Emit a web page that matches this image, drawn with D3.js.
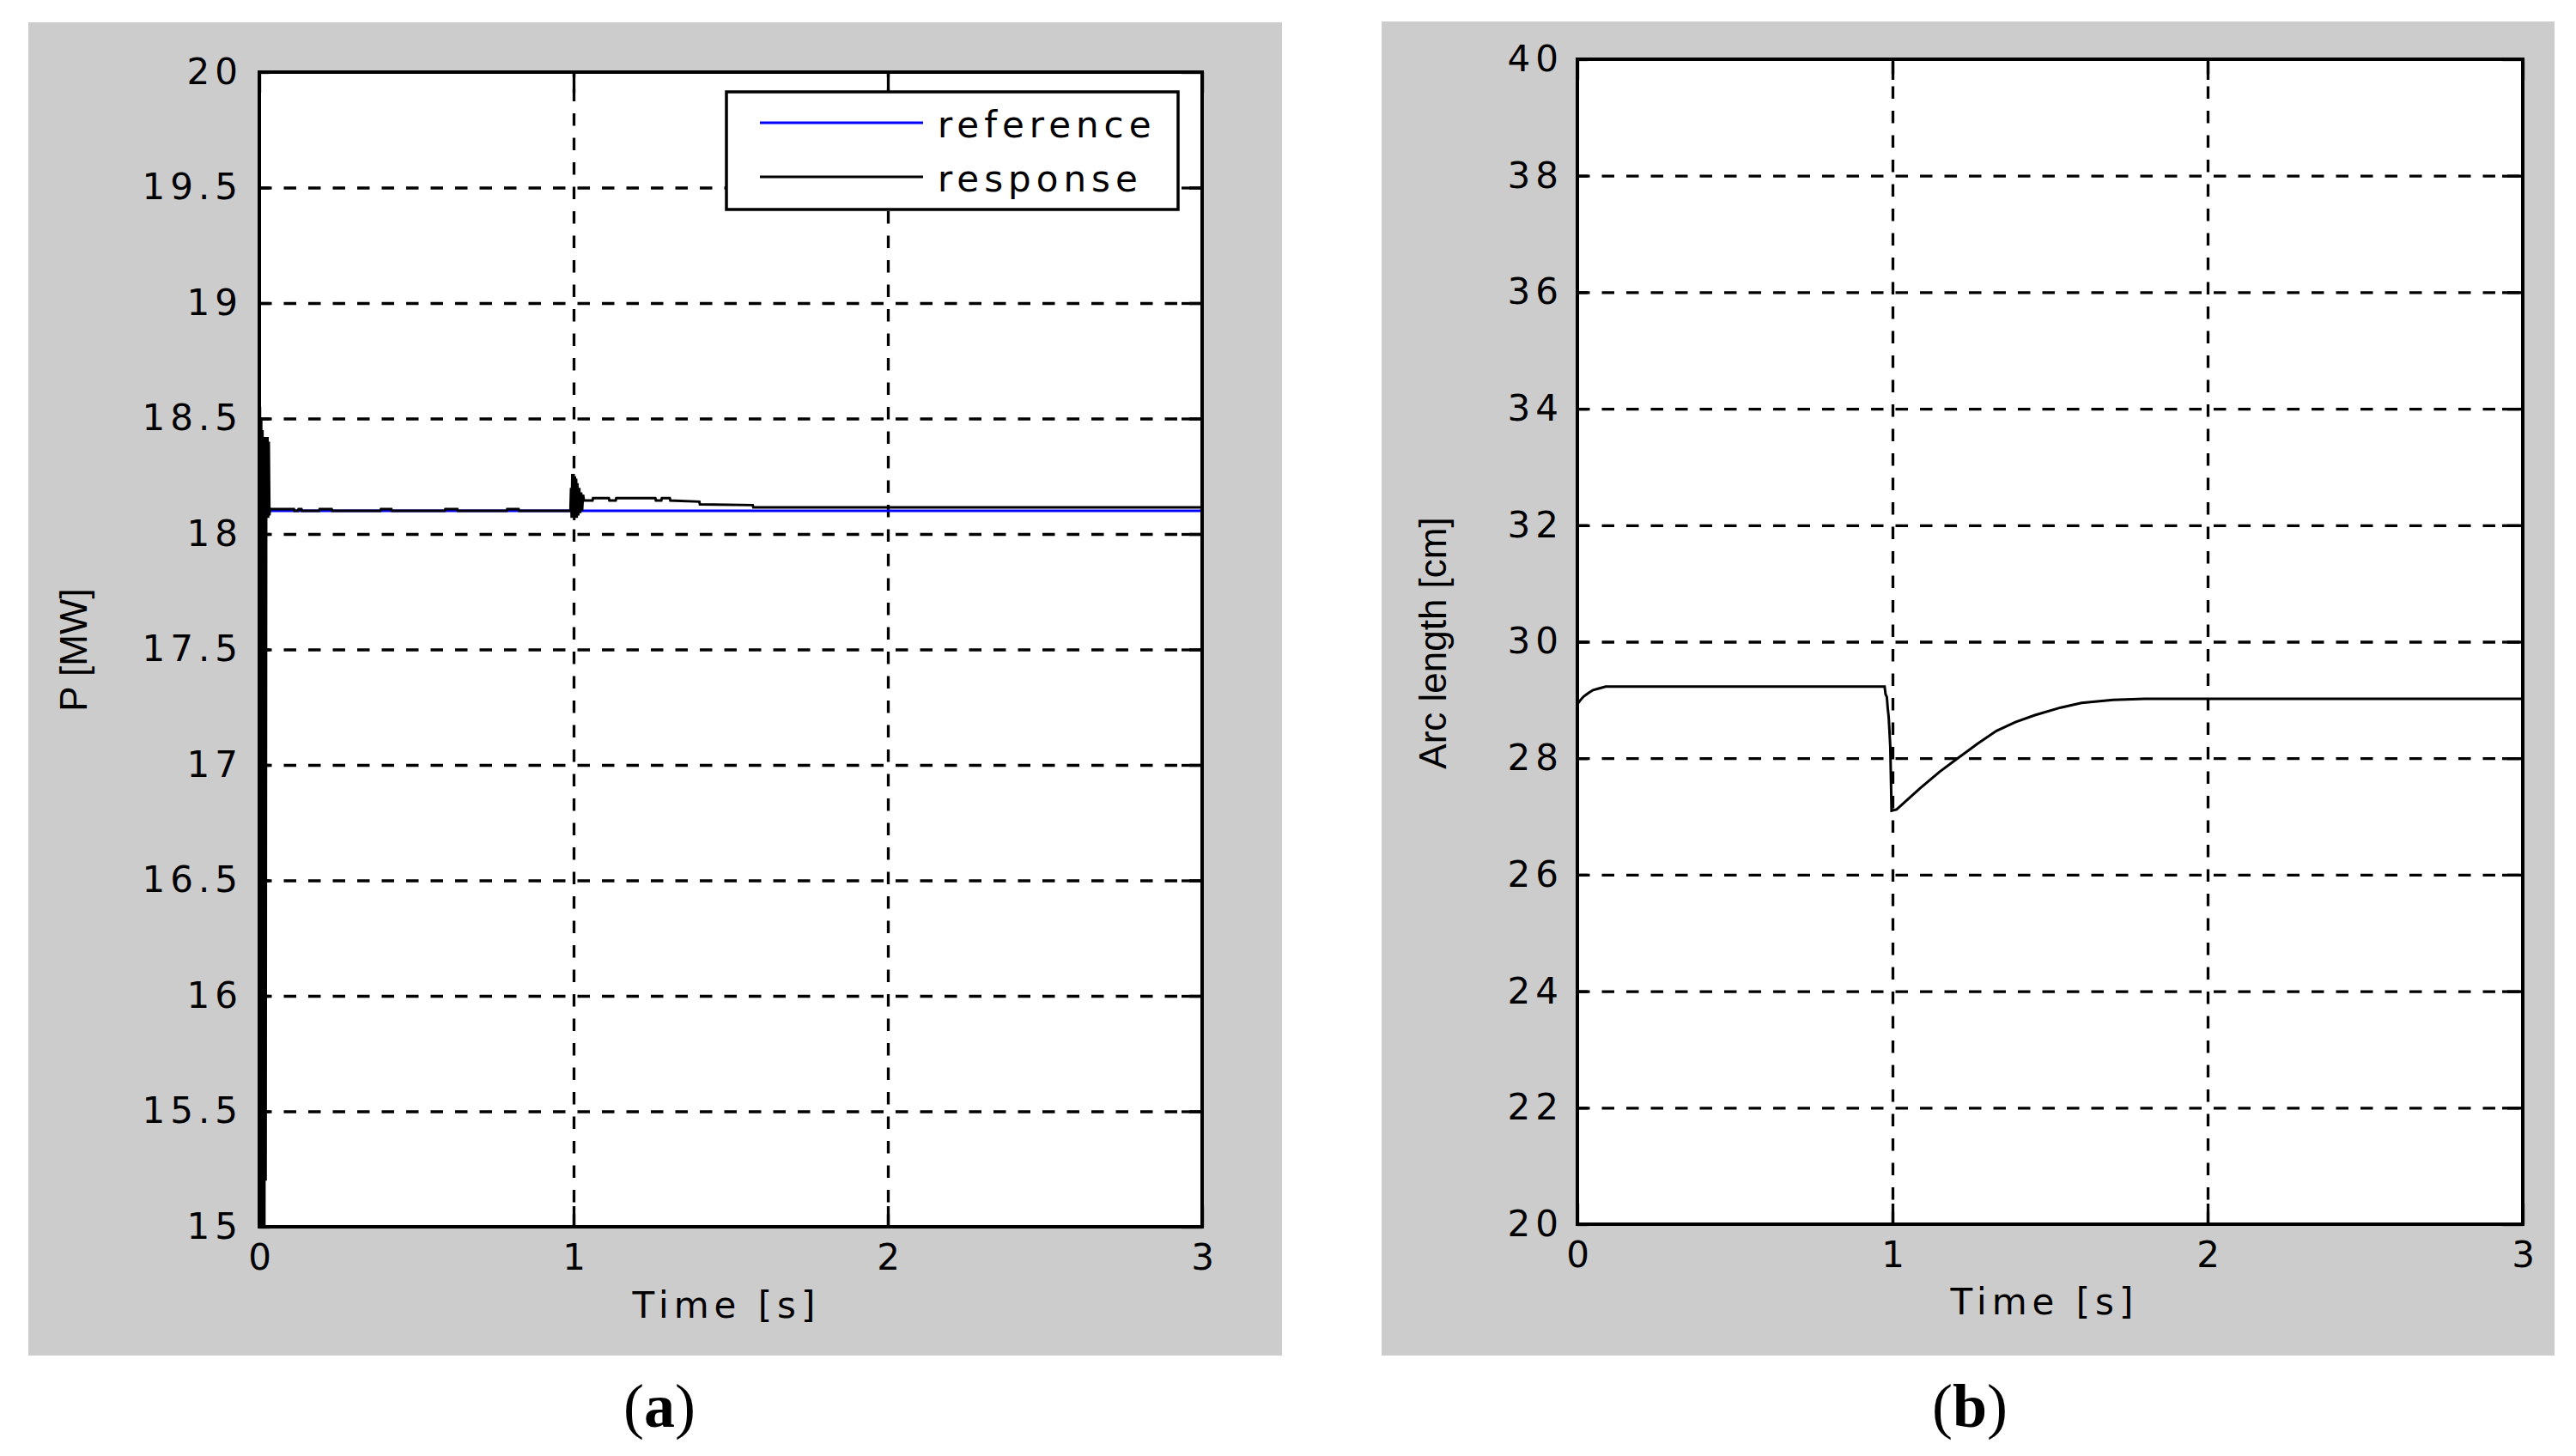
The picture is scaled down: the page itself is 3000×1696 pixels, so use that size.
<!DOCTYPE html>
<html>
<head>
<meta charset="utf-8">
<script src="https://cdn.jsdelivr.net/npm/d3@7"></script>
<style>
  body { margin: 0; background: #fff; }
  svg { display: block; }
</style>
</head>
<body>
<svg id="fig" width="3000" height="1696"></svg>
<script>
// ---- data ----
const timeTicks = [0, 1, 2, 3];
const powerTicks = [15, 15.5, 16, 16.5, 17, 17.5, 18, 18.5, 19, 19.5, 20];
const arcTicks = [20, 22, 24, 26, 28, 30, 32, 34, 36, 38, 40];
const legendLabels = ['reference', 'response'];

// P reference [s, MW]
const powerReference = [[0, 18.1], [3, 18.1]];

// P response [s, MW]
const powerResponse = [
  [0, 14.5], [0.002, 18.55], [0.004, 14.5], [0.006, 18.5], [0.008, 14.6], [0.010, 18.45],
  [0.012, 14.8], [0.014, 18.42], [0.016, 15.0], [0.018, 18.42], [0.020, 15.2], [0.022, 18.42],
  [0.024, 18.07], [0.026, 18.42], [0.028, 18.07], [0.030, 18.40], [0.032, 18.08], [0.034, 18.11],
  [0.036, 18.108], [0.11, 18.108], [0.112, 18.1], [0.123, 18.1], [0.125, 18.108], [0.134, 18.108],
  [0.136, 18.1], [0.19, 18.1], [0.192, 18.108], [0.23, 18.108], [0.232, 18.1], [0.385, 18.1],
  [0.387, 18.108], [0.42, 18.108], [0.422, 18.1], [0.59, 18.1], [0.592, 18.108], [0.63, 18.108],
  [0.632, 18.1], [0.787, 18.1], [0.789, 18.108], [0.825, 18.108], [0.827, 18.1], [0.99, 18.1],
  [0.992, 18.2], [0.994, 18.07], [0.996, 18.26], [0.998, 18.07], [1.0, 18.26], [1.002, 18.06],
  [1.004, 18.25], [1.006, 18.07], [1.008, 18.24], [1.010, 18.07], [1.012, 18.22], [1.015, 18.08],
  [1.018, 18.2], [1.021, 18.09], [1.024, 18.18], [1.027, 18.1], [1.03, 18.17], [1.033, 18.145],
  [1.06, 18.145], [1.062, 18.155], [1.112, 18.155], [1.114, 18.145], [1.134, 18.145], [1.136, 18.155],
  [1.26, 18.155], [1.262, 18.145], [1.279, 18.145], [1.281, 18.155], [1.306, 18.155], [1.308, 18.145],
  [1.40, 18.14], [1.402, 18.128], [1.57, 18.125], [1.572, 18.115], [3.0, 18.115]
];

// arc length [s, cm]
const arcLength = [
  [0, 28.93], [0.01, 29.0], [0.02, 29.06], [0.035, 29.12], [0.05, 29.17], [0.07, 29.2], [0.09, 29.23],
  [0.975, 29.23], [0.978, 29.1], [0.982, 29.05], [0.985, 28.85], [0.988, 28.7], [0.99, 28.5],
  [0.993, 28.2], [0.997, 27.1], [1.013, 27.12], [1.05, 27.3], [1.087, 27.48], [1.15, 27.77],
  [1.207, 28.0], [1.27, 28.25], [1.33, 28.47], [1.39, 28.62], [1.452, 28.74], [1.534, 28.87],
  [1.6, 28.95], [1.7, 29.0], [1.8, 29.02], [2.0, 29.02], [3.0, 29.02]
];

const svg = d3.select('#fig');
svg.append('rect').attr('width', 3000).attr('height', 1696).attr('fill', '#fff');

const tickFont = (sel) => sel
  .style('font-family', "'DejaVu Sans', sans-serif")
  .style('font-size', '42px')
  .style('letter-spacing', '6px')
  .attr('fill', '#000');

function drawPanel(o) {
  const g = svg.append('g');
  const w = o.right - o.left;
  const h = o.bottom - o.top;

  // figure background
  g.append('rect')
    .attr('x', o.bg[0]).attr('y', o.bg[1])
    .attr('width', o.bg[2] - o.bg[0]).attr('height', o.bg[3] - o.bg[1])
    .attr('fill', '#cccccc');

  const x = d3.scaleLinear()
    .domain([timeTicks[0], timeTicks[timeTicks.length - 1]])
    .range([o.left, o.right]);
  const y = d3.scaleLinear()
    .domain([o.yTicks[0], o.yTicks[o.yTicks.length - 1]])
    .range([o.bottom, o.top]);

  g.append('rect')
    .attr('x', o.left).attr('y', o.top)
    .attr('width', w).attr('height', h)
    .attr('fill', '#fff');

  // dashed grid
  const inner = (arr) => arr.slice(1, -1);
  const gridStyle = (s) => {
    s.select('.domain').remove();
    s.selectAll('line')
      .attr('stroke', '#000')
      .attr('stroke-width', 3.3)
      .attr('stroke-dasharray', '14.5 14');
  };
  g.append('g')
    .attr('transform', `translate(${o.left},0)`)
    .call(d3.axisLeft(y).tickValues(inner(o.yTicks)).tickSize(-w).tickFormat(''))
    .call(gridStyle);
  g.append('g')
    .attr('transform', `translate(0,${o.bottom})`)
    .call(d3.axisBottom(x).tickValues(inner(timeTicks)).tickSize(-h).tickFormat(''))
    .call(gridStyle);

  // inward ticks on all four sides
  const tickStyle = (s) => {
    s.select('.domain').remove();
    s.selectAll('line').attr('stroke', '#000').attr('stroke-width', 3.3);
  };
  g.append('g').attr('transform', `translate(${o.left},0)`)
    .call(d3.axisLeft(y).tickValues(o.yTicks).tickSize(-12).tickFormat('')).call(tickStyle);
  g.append('g').attr('transform', `translate(${o.right},0)`)
    .call(d3.axisRight(y).tickValues(o.yTicks).tickSize(-24).tickFormat('')).call(tickStyle);
  g.append('g').attr('transform', `translate(0,${o.bottom})`)
    .call(d3.axisBottom(x).tickValues(timeTicks).tickSize(-24).tickFormat('')).call(tickStyle);
  g.append('g').attr('transform', `translate(0,${o.top})`)
    .call(d3.axisTop(x).tickValues(timeTicks).tickSize(-24).tickFormat('')).call(tickStyle);

  // data lines
  const clipId = 'clip-' + o.name;
  g.append('clipPath').attr('id', clipId)
    .append('rect')
    .attr('x', o.left).attr('y', o.top)
    .attr('width', w).attr('height', h);

  const line = d3.line().x(d => x(d[0])).y(d => y(d[1]));
  o.series.forEach(s => {
    g.append('path')
      .datum(s.data)
      .attr('clip-path', `url(#${clipId})`)
      .attr('fill', 'none')
      .attr('stroke', s.color)
      .attr('stroke-width', 3)
      .attr('stroke-linejoin', 'miter')
      .attr('d', line);
  });

  // axes box
  g.append('rect')
    .attr('x', o.left).attr('y', o.top)
    .attr('width', w).attr('height', h)
    .attr('fill', 'none')
    .attr('stroke', '#000')
    .attr('stroke-width', 4);

  // tick labels
  const yLab = g.append('g')
    .attr('transform', `translate(${o.left},0)`)
    .call(d3.axisLeft(y).tickValues(o.yTicks).tickSize(0).tickPadding(o.yPad).tickFormat(d => String(d)));
  yLab.select('.domain').remove();
  yLab.selectAll('line').remove();
  yLab.selectAll('text').call(tickFont);

  const xLab = g.append('g')
    .attr('transform', `translate(0,${o.bottom})`)
    .call(d3.axisBottom(x).tickValues(timeTicks).tickSize(0).tickPadding(20).tickFormat(d => String(d)));
  xLab.select('.domain').remove();
  xLab.selectAll('line').remove();
  xLab.selectAll('text').attr('dx', '3px').call(tickFont);

  // axis titles
  g.append('text')
    .attr('x', o.xTitle[0]).attr('y', o.xTitle[1])
    .attr('text-anchor', 'middle')
    .text('Time [s]')
    .call(tickFont);

  g.append('text')
    .attr('transform', `translate(${o.yTitle[0]},${o.yTitle[1]}) rotate(-90)`)
    .attr('text-anchor', 'middle')
    .style('font-family', "'Liberation Sans', Arial, sans-serif")
    .style('font-size', '44px')
    .attr('fill', '#000')
    .text(o.yLabel);

  // sub-figure caption
  const cap = g.append('text')
    .attr('x', o.caption[0]).attr('y', o.caption[1])
    .attr('text-anchor', 'middle')
    .style('font-family', "'Liberation Serif', 'Times New Roman', serif")
    .style('font-size', '72px')
    .attr('fill', '#000');
  cap.append('tspan').text('(');
  cap.append('tspan').attr('font-weight', 'bold').text(o.name);
  cap.append('tspan').text(')');

  return { g, x, y };
}

const pa = drawPanel({
  name: 'a',
  bg: [33, 26, 1493, 1579],
  left: 302, right: 1400, top: 84, bottom: 1429,
  yTicks: powerTicks,
  yPad: 19,
  yLabel: 'P [MW]',
  xTitle: [846, 1535],
  yTitle: [101, 757],
  caption: [768, 1662],
  series: [
    { data: powerReference, color: '#0000ff' },
    { data: powerResponse, color: '#000' }
  ]
});

drawPanel({
  name: 'b',
  bg: [1609, 25, 2975, 1579],
  left: 1837, right: 2938, top: 69, bottom: 1426,
  yTicks: arcTicks,
  yPad: 16,
  yLabel: 'Arc length [cm]',
  xTitle: [2381, 1531],
  yTitle: [1684, 749],
  caption: [2294, 1662],
  series: [
    { data: arcLength, color: '#000' }
  ]
});

// legend of panel (a)
const legendColors = ['#0000ff', '#000'];
const leg = pa.g.append('g');
leg.append('rect')
  .attr('x', 846).attr('y', 107)
  .attr('width', 1372 - 846).attr('height', 244 - 107)
  .attr('fill', '#fff')
  .attr('stroke', '#000')
  .attr('stroke-width', 3.5);
legendLabels.forEach((label, i) => {
  const ly = 143 + i * 63;
  leg.append('line')
    .attr('x1', 885).attr('x2', 1075)
    .attr('y1', ly).attr('y2', ly)
    .attr('stroke', legendColors[i])
    .attr('stroke-width', 3);
  leg.append('text')
    .attr('x', 1092).attr('y', ly + 17)
    .text(label)
    .call(tickFont);
});
</script>
</body>
</html>
